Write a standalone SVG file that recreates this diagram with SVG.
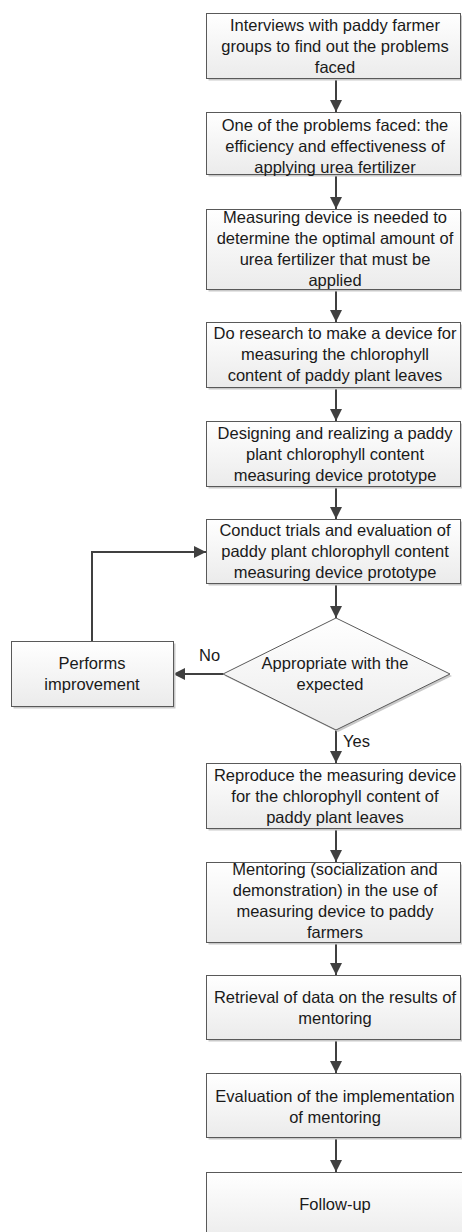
<svg xmlns="http://www.w3.org/2000/svg" width="462" height="1232" viewBox="0 0 462 1232">
<style>
.box{fill:url(#g);stroke:#595959;stroke-width:1}
.sh{fill:#c9c9c9}
.t{font-family:"Liberation Sans",Arial,sans-serif;font-size:16.5px;fill:#1a1a1a;text-anchor:middle}
.lbl{font-family:"Liberation Sans",Arial,sans-serif;font-size:16.5px;fill:#1a1a1a}
.c{fill:none;stroke:#404040;stroke-width:2;marker-end:url(#ah)}
</style>
<defs>
<linearGradient id="g" x1="0" y1="0" x2="0" y2="1">
<stop offset="0" stop-color="#ffffff"/>
<stop offset="1" stop-color="#ebebeb"/>
</linearGradient>
<marker id="ah" markerUnits="userSpaceOnUse" markerWidth="12" markerHeight="12" viewBox="0 0 12 12" refX="12" refY="6" orient="auto">
<path d="M0,0 L12,6 L0,12 z" fill="#404040"/>
</marker>
</defs>
<rect width="462" height="1232" fill="#ffffff"/>
<g id="connectors">
<line class="c" x1="336" y1="78" x2="336" y2="112"/>
<line class="c" x1="336" y1="175" x2="336" y2="209"/>
<line class="c" x1="336" y1="290" x2="336" y2="322"/>
<line class="c" x1="336" y1="388" x2="336" y2="421"/>
<line class="c" x1="336" y1="487" x2="336" y2="519"/>
<line class="c" x1="336" y1="584" x2="336" y2="618"/>
<polyline class="c" points="92,641 92,552 206,552"/>
<line class="c" x1="223" y1="674" x2="173" y2="674"/>
<line class="c" x1="336" y1="730" x2="336" y2="763"/>
<line class="c" x1="336" y1="829" x2="336" y2="862"/>
<line class="c" x1="336" y1="943" x2="336" y2="975"/>
<line class="c" x1="336" y1="1040" x2="336" y2="1073"/>
<line class="c" x1="336" y1="1138" x2="336" y2="1172"/>
<text class="lbl" x="199" y="661">No</text>
<text class="lbl" x="343" y="747">Yes</text>
</g>
<g id="n1">
<rect class="sh" x="208.5" y="15.5" width="254" height="65"/>
<rect class="box" x="206.5" y="13.5" width="254" height="65"/>
<text class="t" x="335" y="31">Interviews with paddy farmer</text>
<text class="t" x="335" y="52">groups to find out the problems</text>
<text class="t" x="335" y="73">faced</text>
</g>
<g id="n2">
<rect class="sh" x="208.5" y="114.5" width="254" height="62"/>
<rect class="box" x="206.5" y="112.5" width="254" height="62"/>
<text class="t" x="335" y="131">One of the problems faced: the</text>
<text class="t" x="335" y="152">efficiency and effectiveness of</text>
<text class="t" x="335" y="173">applying urea fertilizer</text>
</g>
<g id="n3">
<rect class="sh" x="208.5" y="211.5" width="254" height="80"/>
<rect class="box" x="206.5" y="209.5" width="254" height="80"/>
<text class="t" x="335" y="223">Measuring device is needed to</text>
<text class="t" x="335" y="244">determine the optimal amount of</text>
<text class="t" x="335" y="265">urea fertilizer that must be</text>
<text class="t" x="335" y="286">applied</text>
</g>
<g id="n4">
<rect class="sh" x="208.5" y="324.5" width="254" height="65"/>
<rect class="box" x="206.5" y="322.5" width="254" height="65"/>
<text class="t" x="335" y="339">Do research to make a device for</text>
<text class="t" x="335" y="360">measuring the chlorophyll</text>
<text class="t" x="335" y="381">content of paddy plant leaves</text>
</g>
<g id="n5">
<rect class="sh" x="208.5" y="423.5" width="254" height="65"/>
<rect class="box" x="206.5" y="421.5" width="254" height="65"/>
<text class="t" x="335" y="439">Designing and realizing a paddy</text>
<text class="t" x="335" y="460">plant chlorophyll content</text>
<text class="t" x="335" y="481">measuring device prototype</text>
</g>
<g id="n6">
<rect class="sh" x="208.5" y="521.5" width="254" height="64"/>
<rect class="box" x="206.5" y="519.5" width="254" height="64"/>
<text class="t" x="335" y="536">Conduct trials and evaluation of</text>
<text class="t" x="335" y="557">paddy plant chlorophyll content</text>
<text class="t" x="335" y="578">measuring device prototype</text>
</g>
<g id="n7">
<polygon class="sh" points="338,620 452,676 338,732 225,676"/>
<polygon class="box" points="336,618 450,674 336,730 223,674"/>
<text class="t" x="335" y="669">Appropriate with the</text>
<text class="t" x="330" y="690">expected</text>
</g>
<g id="n8">
<rect class="sh" x="13.5" y="643.5" width="162" height="65"/>
<rect class="box" x="11.5" y="641.5" width="162" height="65"/>
<text class="t" x="92" y="669">Performs</text>
<text class="t" x="92" y="690">improvement</text>
</g>
<g id="n9">
<rect class="sh" x="208.5" y="765.5" width="254" height="65"/>
<rect class="box" x="206.5" y="763.5" width="254" height="65"/>
<text class="t" x="335" y="781">Reproduce the measuring device</text>
<text class="t" x="335" y="802">for the chlorophyll content of</text>
<text class="t" x="335" y="823">paddy plant leaves</text>
</g>
<g id="n10">
<rect class="sh" x="208.5" y="864.5" width="254" height="80"/>
<rect class="box" x="206.5" y="862.5" width="254" height="80"/>
<text class="t" x="335" y="875">Mentoring (socialization and</text>
<text class="t" x="335" y="896">demonstration) in the use of</text>
<text class="t" x="335" y="917">measuring device to paddy</text>
<text class="t" x="335" y="938">farmers</text>
</g>
<g id="n11">
<rect class="sh" x="208.5" y="977.5" width="254" height="64"/>
<rect class="box" x="206.5" y="975.5" width="254" height="64"/>
<text class="t" x="335" y="1003">Retrieval of data on the results of</text>
<text class="t" x="335" y="1024">mentoring</text>
</g>
<g id="n12">
<rect class="sh" x="208.5" y="1075.5" width="254" height="64"/>
<rect class="box" x="206.5" y="1073.5" width="254" height="64"/>
<text class="t" x="335" y="1102">Evaluation of the implementation</text>
<text class="t" x="335" y="1123">of mentoring</text>
</g>
<g id="n13">
<rect class="box" x="206.5" y="1172.5" width="260" height="70"/>
<text class="t" x="335" y="1210">Follow-up</text>
</g>
</svg>
